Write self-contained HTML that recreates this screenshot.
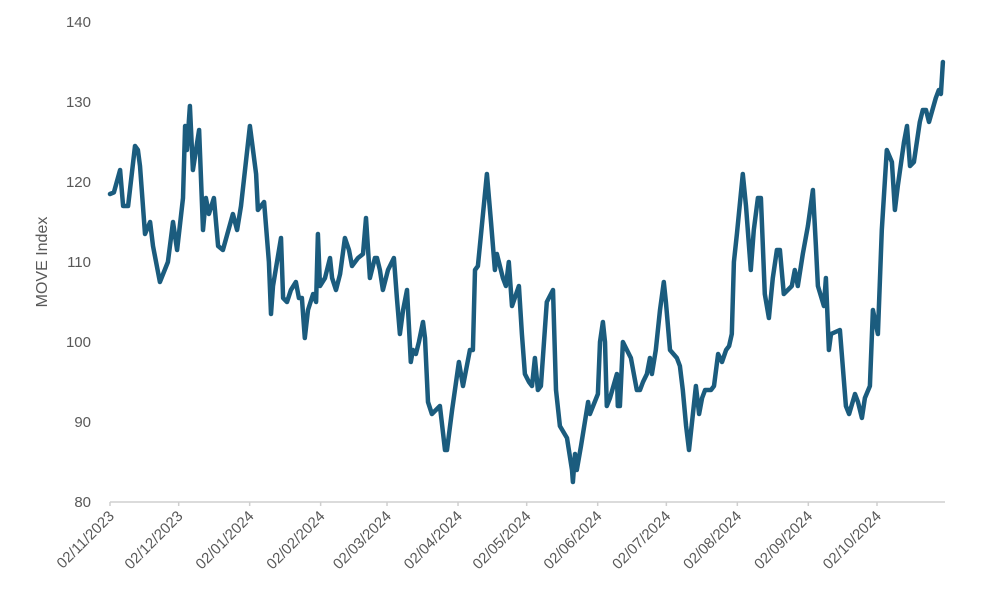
<!DOCTYPE html>
<html><head><meta charset="utf-8"><style>
html,body{margin:0;padding:0;background:#fff;}
svg{display:block;font-family:"Liberation Sans",sans-serif;}
</style></head><body>
<svg id="chart" width="983" height="614"></svg>
<script>
const days=[0,1.7,4.4,5.7,7.9,10.9,12.2,13.1,15.3,17.5,18.8,21.8,25.3,27.5,29.3,31.9,32.8,33.6,34.9,36.2,38.9,40.6,41.9,43.2,45.4,47.2,49.3,53.7,55.5,57.2,61.1,63.8,64.6,67.3,69.4,70.3,71.2,74.7,75.6,77.3,79.0,81.2,82.5,83.8,85.1,86.5,88.7,90.0,90.8,91.7,93.9,96.1,97.0,98.7,100.5,102.6,104.4,105.7,108.3,110.5,111.8,113.5,115.7,116.6,117.9,119.2,121.4,124.0,125.3,126.6,128.0,129.7,131.4,132.3,133.6,134.9,136.7,137.6,138.9,140.6,144.1,146.3,147.2,149.4,152.4,154.2,157.2,158.5,159.4,160.7,164.6,166.4,168.1,169.0,171.6,172.9,174.2,175.6,178.6,179.9,181.2,183.0,184.3,185.6,186.9,188.2,190.8,193.5,194.8,196.5,199.6,201.8,202.2,203.1,203.9,205.7,208.8,209.6,213.1,214.0,215.3,216.2,217.0,218.4,221.4,221.8,222.7,224.0,227.5,230.1,231.5,232.8,234.5,235.8,236.7,238.4,240.2,241.9,242.8,244.6,247.6,248.9,250.2,251.6,252.9,254.6,255.9,257.3,258.6,259.9,262.5,263.8,265.6,267.3,269.1,270.4,271.6,272.5,273.8,276.4,277.8,279.9,281.2,283.0,284.3,286.0,287.8,289.5,291.3,292.6,294.3,297.8,299.1,300.4,302.6,304.8,307.0,308.3,309.2,311.8,312.7,314.0,314.9,318.8,321.4,322.8,325.4,326.7,328.4,329.7,331.9,333.2,335.4,337.1,339.3,341.5,342.8,344.1,346.8,348.1,349.4,351.1,353.7,355.0,356.4,357.7,360.7,362.0,362.9,363.8];
const values=[118.5,118.7,121.5,117,117,124.5,124,122,113.5,115,112,107.5,110,115,111.5,118,127,124,129.5,121.5,126.5,114,118,116,118,112,111.5,116,114,117,127,121,116.5,117.5,110,103.5,107,113,105.5,105,106.5,107.5,105.5,105.5,100.5,104,106,105,113.5,107,108,110.5,108,106.5,108.5,113,111.5,109.5,110.5,111,115.5,108,110.5,110.5,109,106.5,109,110.5,105.5,101,104,106.5,97.5,99,98.5,100,102.5,100.5,92.5,91,92,86.5,86.5,91.5,97.5,94.5,99,99,109,109.5,121,115,109,111,108,107,110,104.5,107,101,96,95,94.5,98,94,94.5,105,106.5,94,89.5,88,84,82.5,86,84,87,92.5,91,93.5,100,102.5,100,92,93,96,92,92,100,98,94,94,95,96,98,96,99,104,107.5,105,99,98,97,94,89.5,86.5,91,94.5,91,93,94,94,94.5,98.5,97.5,99,99.5,101,110,113.5,121,117,109,114,118,118,106,103,108,111.5,111.5,106,107,109,107,111,114.5,119,112,107,104.5,108,99,101,101.5,92,91,93.5,92.5,90.5,93,94.5,104,101,114,124,122.5,116.5,119.5,125,127,122,122.5,127.5,129,129,127.5,130.5,131.5,131,135];
const yTicks=[80,90,100,110,120,130,140];
const xTickLabels=["02/11/2023","02/12/2023","02/01/2024","02/02/2024","02/03/2024","02/04/2024","02/05/2024","02/06/2024","02/07/2024","02/08/2024","02/09/2024","02/10/2024"];
const xTickDays=[0,30,61,92,121,152,182,213,243,274,305,335];

const NS="http://www.w3.org/2000/svg";
const svg=document.getElementById('chart');
const x0=110,pxPerDay=767/335;
const xs=d=>x0+d*pxPerDay;
const ys=v=>502-(v-80)*8;
function el(t,a){const e=document.createElementNS(NS,t);for(const k in a)e.setAttribute(k,a[k]);svg.appendChild(e);return e;}

const ax=el('line',{x1:110,y1:502,x2:945,y2:502,stroke:'#cfcfcf','stroke-width':1.5});



yTicks.forEach(v=>{
  const t=el('text',{x:91,y:ys(v)+5,'text-anchor':'end','font-size':15,fill:'#595959'});
  t.textContent=v;
  
  
});

xTickLabels.forEach((lab,i)=>{
  const x=xs(xTickDays[i]);
  const tk=el('line',{x1:x,y1:502,x2:x,y2:506,stroke:'#cfcfcf','stroke-width':1.5});
  
  
  const t=el('text',{x:x+5,y:517,'text-anchor':'end','font-size':15,fill:'#595959',transform:`rotate(-45 ${x+5} 517)`});
  t.textContent=lab;
  
  
});

const yt=el('text',{x:47,y:262,'text-anchor':'middle','font-size':16,fill:'#595959',transform:'rotate(-90 47 262)'});
yt.textContent='MOVE Index';



const d=days.map((dd,i)=>(i?'L':'M')+xs(dd).toFixed(1)+' '+ys(values[i]).toFixed(1)).join(' ');
const p=el('path',{d:d,fill:'none',stroke:'#1b5c7e','stroke-width':4.5,'stroke-linejoin':'round','stroke-linecap':'round'});


</script>
</body></html>
